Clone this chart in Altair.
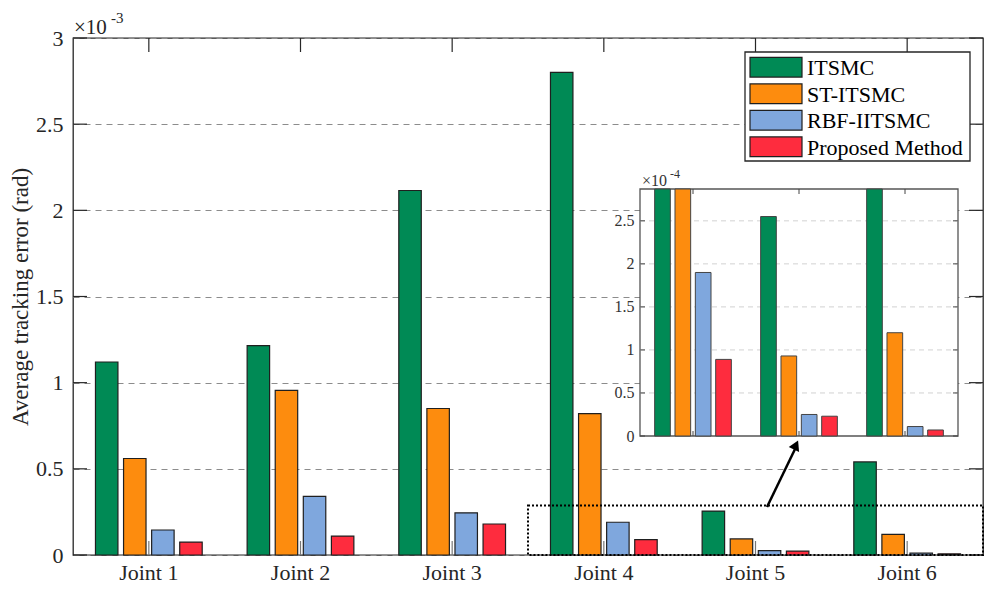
import altair as alt
import pandas as pd

FONT = "Liberation Serif"
AX = "#262626"

joints = ["Joint 1", "Joint 2", "Joint 3", "Joint 4", "Joint 5", "Joint 6"]
methods = ["ITSMC", "ST-ITSMC", "RBF-IITSMC", "Proposed Method"]
colors = ["#008a55", "#fd8c0e", "#7fa7dd", "#fe2c3e"]

# values in units of 1e-3 rad
itsmc = [1.12, 1.215, 2.115, 2.80, 0.255, 0.54]
st_itsmc = [0.56, 0.955, 0.85, 0.82, 0.093, 0.12]
rbf_iitsmc = [0.145, 0.34, 0.245, 0.19, 0.025, 0.011]
proposed = [0.075, 0.11, 0.18, 0.089, 0.023, 0.007]

main_ticks = [0, 0.5, 1, 1.5, 2, 2.5, 3]
inset_ticks = [0, 0.5, 1, 1.5, 2, 2.5]
inset_joints = ["Joint 4", "Joint 5", "Joint 6"]
zoom_top = 0.287  # top of zoom window, 1e-3 units

rows = []
for m, vals in zip(methods, [itsmc, st_itsmc, rbf_iitsmc, proposed]):
    for j, v in zip(joints, vals):
        rows.append({"joint": j, "method": m, "value": v})
df = pd.DataFrame(rows)
df_inset = df[df["joint"].isin(inset_joints)].copy()
df_inset["v4"] = df_inset["value"] * 10

W, H = 910, 517

color = alt.Color("method:N", scale=alt.Scale(domain=methods, range=colors), legend=None)

# ---------------- main chart ----------------
main_x = alt.Scale(domain=joints, paddingInner=0, paddingOuter=0)
main_y = alt.Scale(domain=[0, 3], nice=False)
main_x_axis = alt.Axis(title=None, labelAngle=0, domain=False, ticks=False,
                       grid=False, labelFontSize=22, labelPadding=7)
main_y_axis = alt.Axis(values=main_ticks, format="~g", title="Average tracking error (rad)",
                       grid=True, gridDash=[6, 5], gridColor="#8c8c8c", gridWidth=1,
                       domain=False, ticks=False, labelFontSize=22, labelPadding=10,
                       titleFontSize=23, titleFontWeight="normal", titlePadding=3)

bars = alt.Chart(df).mark_bar(stroke="#1f1f1f", strokeWidth=1.2).encode(
    x=alt.X("joint:N", scale=main_x, sort=joints, axis=main_x_axis),
    xOffset=alt.XOffset("method:N", sort=methods,
                        scale=alt.Scale(domain=methods, paddingInner=0.2, paddingOuter=0.8)),
    y=alt.Y("value:Q", scale=main_y, axis=main_y_axis),
    color=color,
)

tick_df = pd.DataFrame({"value": main_ticks})
ytick_l = alt.Chart(tick_df).mark_rule(color=AX, strokeWidth=1.2).encode(
    y=alt.Y("value:Q", scale=main_y, axis=main_y_axis), x=alt.value(0), x2=alt.value(14))
ytick_r = alt.Chart(tick_df).mark_rule(color=AX, strokeWidth=1.2).encode(
    y=alt.Y("value:Q", scale=main_y, axis=main_y_axis), x=alt.value(W), x2=alt.value(W - 14))

jt_df = pd.DataFrame({"joint": joints})
xtick_b = alt.Chart(jt_df).mark_rule(color="#777777", strokeWidth=1.2).encode(
    x=alt.X("joint:N", scale=main_x, sort=joints, axis=main_x_axis),
    y=alt.value(H), y2=alt.value(H - 14))
xtick_t = alt.Chart(jt_df).mark_rule(color=AX, strokeWidth=1.2).encode(
    x=alt.X("joint:N", scale=main_x, sort=joints, axis=main_x_axis),
    y=alt.value(0), y2=alt.value(14))

zoom_df = pd.DataFrame({"value": [0], "value2": [zoom_top]})
zoom_box = alt.Chart(zoom_df).mark_rect(fillOpacity=0, stroke="black", strokeWidth=2,
                                        strokeDash=[2, 2]).encode(
    y=alt.Y("value:Q", scale=main_y, axis=main_y_axis), y2="value2:Q",
    x=alt.value(455), x2=alt.value(W))

one = pd.DataFrame({"a": [1]})
arrow_line = alt.Chart(one).mark_rule(color="black", strokeWidth=2.5).encode(
    x=alt.value(694), y=alt.value(469), x2=alt.value(724), y2=alt.value(407))
arrow_head = alt.Chart(one).mark_point(shape="triangle-up", filled=True, color="black",
                                       size=130, angle=25, opacity=1).encode(
    x=alt.value(723), y=alt.value(407))

exp_base = alt.Chart(one).mark_text(text="×10", font=FONT, fontSize=21, color=AX,
                                    align="left", baseline="alphabetic").encode(
    x=alt.value(1), y=alt.value(-4))
exp_sup = alt.Chart(one).mark_text(text="-3", font=FONT, fontSize=15, color=AX,
                                   align="left", baseline="alphabetic").encode(
    x=alt.value(38), y=alt.value(-15))

main = alt.layer(xtick_b, bars, ytick_l, ytick_r, xtick_t, zoom_box, arrow_line,
                 arrow_head, exp_base, exp_sup)

# ---------------- inset ----------------
IX0, IX1, IY0, IY1 = 567, 885, 151, 398
inset_x = alt.Scale(domain=inset_joints, range=[IX0, IX1], paddingInner=0, paddingOuter=0)
inset_y = alt.Scale(domain=[0, 2.87], range=[IY1, IY0], nice=False, clamp=True)
inset_y_axis = alt.Axis(orient="left", offset=-IX0, values=inset_ticks, format="~g",
                        domain=False, ticks=False, grid=False, labelFontSize=16,
                        labelPadding=6, title=None, labelColor="#333333")

frame = alt.Chart(one).mark_rect(fill="white", stroke="#555555", strokeWidth=1.3).encode(
    x=alt.value(IX0), x2=alt.value(IX1), y=alt.value(IY0), y2=alt.value(IY1))

itick_df = pd.DataFrame({"v4": inset_ticks})
igrid = alt.Chart(itick_df[itick_df["v4"] > 0]).mark_rule(
    color="#d2d2d2", strokeDash=[5, 4], strokeWidth=1).encode(
    y=alt.Y("v4:Q", scale=inset_y, axis=inset_y_axis), x=alt.value(IX0), x2=alt.value(IX1))

ibars = alt.Chart(df_inset).mark_bar(stroke="#444444", strokeWidth=1).encode(
    x=alt.X("joint:N", scale=inset_x, sort=inset_joints, axis=None),
    xOffset=alt.XOffset("method:N", sort=methods,
                        scale=alt.Scale(domain=methods, paddingInner=0.23, paddingOuter=0.72)),
    y=alt.Y("v4:Q", scale=inset_y, axis=inset_y_axis),
    color=color,
)

iytick_l = alt.Chart(itick_df).mark_rule(color="#444444", strokeWidth=1).encode(
    y=alt.Y("v4:Q", scale=inset_y, axis=inset_y_axis), x=alt.value(IX0), x2=alt.value(IX0 + 5))
iytick_r = alt.Chart(itick_df).mark_rule(color="#444444", strokeWidth=1).encode(
    y=alt.Y("v4:Q", scale=inset_y, axis=inset_y_axis), x=alt.value(IX1), x2=alt.value(IX1 - 5))
ijt_df = pd.DataFrame({"joint": inset_joints})
ixtick_t = alt.Chart(ijt_df).mark_rule(color="#444444", strokeWidth=1).encode(
    x=alt.X("joint:N", scale=inset_x, sort=inset_joints, axis=None),
    y=alt.value(IY0), y2=alt.value(IY0 + 5))
ixtick_b = alt.Chart(ijt_df).mark_rule(color="#444444", strokeWidth=1).encode(
    x=alt.X("joint:N", scale=inset_x, sort=inset_joints, axis=None),
    y=alt.value(IY1), y2=alt.value(IY1 - 5))

iexp_base = alt.Chart(one).mark_text(text="×10", font=FONT, fontSize=16, color="#333333",
                                     align="left", baseline="alphabetic").encode(
    x=alt.value(IX0 + 2), y=alt.value(IY0 - 3))
iexp_sup = alt.Chart(one).mark_text(text="-4", font=FONT, fontSize=12, color="#333333",
                                    align="left", baseline="alphabetic").encode(
    x=alt.value(IX0 + 30), y=alt.value(IY0 - 11))

inset = alt.layer(frame, igrid, ibars, iytick_l, iytick_r, ixtick_t, ixtick_b,
                  iexp_base, iexp_sup)

# ---------------- legend ----------------
leg_df = pd.DataFrame({"method": methods})
leg_y = alt.Scale(domain=methods, range=[16, 122], paddingInner=0.26, paddingOuter=0.13)
leg_frame = alt.Chart(one).mark_rect(fill="white", stroke=AX, strokeWidth=1.3).encode(
    x=alt.value(672), x2=alt.value(897), y=alt.value(14), y2=alt.value(123))
leg_sw = alt.Chart(leg_df).mark_rect(stroke="#1f1f1f", strokeWidth=1.2).encode(
    y=alt.Y("method:N", scale=leg_y, sort=methods, axis=None),
    x=alt.value(677), x2=alt.value(729), color=color)
leg_tx = alt.Chart(leg_df).mark_text(font=FONT, fontSize=22, color="black", align="left",
                                     baseline="middle", dy=1).encode(
    y=alt.Y("method:N", scale=leg_y, sort=methods, axis=None),
    x=alt.value(734), text="method:N")
legend = alt.layer(leg_frame, leg_sw, leg_tx)

chart = alt.layer(main, inset, legend).resolve_scale(
    x="independent", y="independent", xOffset="independent"
).properties(
    width=W, height=H,
    autosize=alt.AutoSizeParams(type="none"),
    padding={"left": 65, "top": 30, "right": 2, "bottom": 33},
).configure_view(
    stroke=AX, strokeWidth=1.3
).configure_axis(
    labelFont=FONT, titleFont=FONT, labelColor=AX, titleColor=AX
)

chart.save("out.html", embed_options={"renderer": "svg", "actions": False})
